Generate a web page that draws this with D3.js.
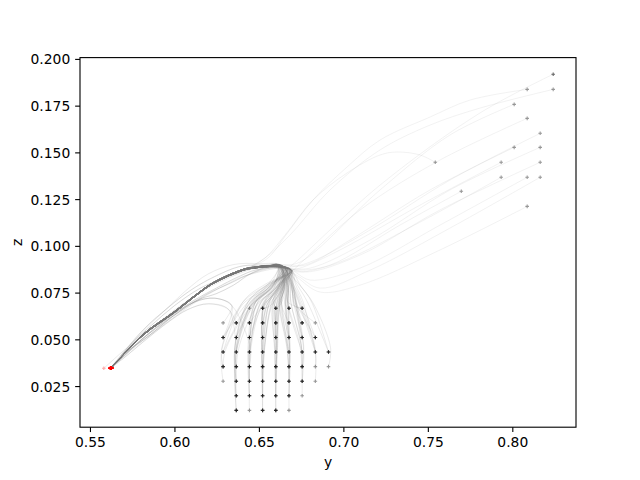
<!DOCTYPE html>
<html><head><meta charset="utf-8">
<script src="https://cdn.jsdelivr.net/npm/d3@7"></script>
<style>body{margin:0;background:#fff} text{font-family:"DejaVu Sans",sans-serif;}</style>
</head><body><svg id="c" width="640" height="480"></svg>
<script>
// ---- data ----
const xTicks = [0.55, 0.60, 0.65, 0.70, 0.75, 0.80];
const zTicks = [0.025, 0.050, 0.075, 0.100, 0.125, 0.150, 0.175, 0.200];
const xDomain = [0.5441, 0.8377];
const zDomain = [0.0030, 0.2007];

const gridX = [0.6288, 0.6366, 0.6444, 0.6522, 0.6600, 0.6678, 0.6756, 0.6834, 0.6912];
const gridZ = [0.0666, 0.0588, 0.0510, 0.0432, 0.0354, 0.0276, 0.0198, 0.0120];
// [row, col, shade(1 dark / 0 light), route of 1st run, route of 2nd run]
const gridStarts = [
  [0,2,0,0,0],[0,3,1,0,3],[0,4,1,0,1],[0,5,1,0,0],[0,6,1,0,0],
  [1,0,0,9,0],[1,1,1,10,0],[1,2,1,2,0],[1,3,1,0,0],[1,4,1,0,0],[1,5,1,4,0],[1,6,1,0,0],[1,7,0,0,0],
  [2,0,1,0,9],[2,1,1,0,0],[2,2,1,0,0],[2,3,1,5,0],[2,4,1,0,0],[2,5,1,0,0],[2,6,1,6,0],[2,7,1,0,0],
  [3,0,1,0,0],[3,1,1,0,10],[3,2,1,0,0],[3,3,1,0,7],[3,4,1,0,0],[3,5,1,0,0],[3,6,1,8,0],[3,7,1,0,0],[3,8,1,0,0],
  [4,0,1,0,0],[4,1,1,0,0],[4,2,1,9,0],[4,3,1,0,0],[4,4,1,0,2],[4,5,1,0,0],[4,6,1,0,0],[4,7,0,0,0],[4,8,0,0,0],
  [5,0,0,0,0],[5,1,1,3,0],[5,2,1,0,0],[5,3,1,0,0],[5,4,1,0,0],[5,5,1,0,6],[5,6,1,0,0],[5,7,0,0,0],
  [6,1,1,0,0],[6,2,1,1,0],[6,3,1,0,0],[6,4,1,0,0],[6,5,1,0,0],[6,6,0,0,0],
  [7,1,1,0,0],[7,2,0,0,0],[7,3,1,7,0],[7,4,1,0,0],[7,5,0,0,0]
];
const riseZ = 0.045;
const fanMidZ = 0.069;
const fanMidX = [0.642, 0.646, 0.650, 0.655, 0.660, 0.665, 0.670, 0.675, 0.679];
const fanTopZ = 0.078;
const fanTopX = [0.6545, 0.657, 0.660, 0.662, 0.664, 0.666, 0.669, 0.671, 0.673];
const jitX = [-0.0022, 0.0014, -0.0007, 0.0026, -0.0016, 0.0005, 0.0019, -0.0029, 0.0010, -0.0011, 0.0023, -0.0003, 0.0031, -0.0019, 0.0007];
const jitZ = [0.0010, -0.0012, 0.0004, -0.0006, 0.0015, -0.0002, 0.0008];
const joins = [[0.6668,0.0880],[0.6640,0.0892],[0.6685,0.0874],[0.6625,0.0897],[0.6695,0.0868],[0.6655,0.0884],[0.6612,0.0899]];

const mainPath  = [[0.6560,0.0889],[0.6487,0.0883],[0.6408,0.0870],[0.6230,0.0799],[0.6132,0.0737],[0.5993,0.0639],[0.5816,0.0523],[0.5622,0.0345]];
const mainPathB = [[0.6560,0.0894],[0.6487,0.0888],[0.6408,0.0875],[0.6230,0.0804],[0.6132,0.0742],[0.5993,0.0644],[0.5816,0.0528],[0.5627,0.0347]];
// faint side routes, each used by one or two runs
const halo = [
  [[0.6487,0.0872],[0.6380,0.0835],[0.6250,0.0775],[0.6100,0.0700],[0.5960,0.0610],[0.5816,0.0505],[0.5626,0.0345]],
  [[0.6450,0.0850],[0.6330,0.0800],[0.6200,0.0745],[0.6050,0.0660],[0.5900,0.0565],[0.5760,0.0465],[0.5618,0.0345]],
  [[0.6487,0.0897],[0.6380,0.0888],[0.6230,0.0832],[0.6100,0.0765],[0.5960,0.0668],[0.5816,0.0552],[0.5622,0.0347]],
  [[0.6487,0.0880],[0.6408,0.0860],[0.6230,0.0790],[0.6050,0.0690],[0.5850,0.0550],[0.5700,0.0440],[0.5582,0.0345]],
  [[0.6500,0.0905],[0.6350,0.0900],[0.6200,0.0850],[0.6080,0.0770],[0.5950,0.0660],[0.5800,0.0530],[0.5628,0.0346]],
  [[0.6470,0.0860],[0.6350,0.0790],[0.6250,0.0745],[0.6150,0.0715],[0.6000,0.0640],[0.5850,0.0535],[0.5622,0.0345]],
  [[0.6487,0.0886],[0.6300,0.0830],[0.6150,0.0772],[0.6000,0.0680],[0.5870,0.0580],[0.5750,0.0480],[0.5624,0.0346]],
  [[0.6420,0.0840],[0.6300,0.0790],[0.6180,0.0730],[0.6030,0.0640],[0.5880,0.0540],[0.5740,0.0440],[0.5620,0.0345]]
];
const direct = [
  [[0.634,0.068],[0.624,0.072],[0.612,0.070],[0.600,0.063],[0.585,0.052],[0.570,0.042],[0.5624,0.0346]],
  [[0.632,0.066],[0.620,0.069],[0.608,0.066],[0.596,0.059],[0.582,0.049],[0.570,0.040],[0.5621,0.0345]]
];

// upper-right starts: start, shade, via points, join mode ('c' via convergence, 'p' straight onto path)
const urStarts = [
  {s:[0.8242,0.1918], d:1, v:[[0.7809,0.1711],[0.7217,0.1325],[0.6696,0.0897]], m:'c'},
  {s:[0.8088,0.1837], d:0, v:[[0.7750,0.1780],[0.7513,0.1689],[0.7217,0.1566],[0.7022,0.1422],[0.6820,0.1245],[0.6655,0.1052],[0.6554,0.0935]], m:'p'},
  {s:[0.8242,0.1837], d:0, v:[[0.7809,0.1737],[0.7513,0.1646],[0.7217,0.1513],[0.6921,0.1299],[0.6684,0.1058],[0.6536,0.0935]], m:'p'},
  {s:[0.8011,0.1757], d:0, v:[[0.7631,0.1593],[0.7217,0.1299],[0.6743,0.0913]], m:'c'},
  {s:[0.8088,0.1682], d:0, v:[[0.7572,0.1459],[0.7099,0.1192],[0.6743,0.0905]], m:'c'},
  {s:[0.8165,0.1602], d:0, v:[[0.7631,0.1352],[0.7158,0.1085],[0.6803,0.0913]], m:'c'},
  {s:[0.8011,0.1527], d:0, v:[[0.7513,0.1299],[0.7039,0.1031],[0.6773,0.0897]], m:'c'},
  {s:[0.8165,0.1527], d:0, v:[[0.7631,0.1299],[0.7158,0.1031],[0.6803,0.0881]], m:'c'},
  {s:[0.7544,0.1447], d:0, v:[[0.7454,0.1486],[0.7318,0.1502],[0.7217,0.1486],[0.7022,0.1390],[0.6820,0.1245],[0.6655,0.1058],[0.6536,0.0935]], m:'p'},
  {s:[0.7934,0.1447], d:0, v:[[0.7454,0.1218],[0.6980,0.0978],[0.6743,0.0881]], m:'c'},
  {s:[0.8165,0.1447], d:0, v:[[0.7572,0.1192],[0.7099,0.0951],[0.6773,0.0860]], m:'c'},
  {s:[0.7934,0.1367], d:0, v:[[0.7454,0.1127],[0.6980,0.0913],[0.6743,0.0860]], m:'c'},
  {s:[0.8088,0.1367], d:0, v:[[0.7572,0.1111],[0.7099,0.0881],[0.6803,0.0817],[0.6714,0.0860]], m:'c'},
  {s:[0.8165,0.1367], d:0, v:[[0.7631,0.1095],[0.7158,0.0870],[0.6862,0.0774],[0.6732,0.0838]], m:'c'},
  {s:[0.7698,0.1292], d:0, v:[[0.7335,0.1111],[0.6921,0.0897],[0.6732,0.0870]], m:'c'},
  {s:[0.8088,0.1211], d:0, v:[[0.7572,0.0978],[0.7099,0.0790],[0.6862,0.0753],[0.6732,0.0828]], m:'c'}
];

// ---- layout ----
const W = 640, H = 480;
const m = {l: 80, r: 64, t: 57.6, b: 52.8};
const FS = 13.89;
const svg = d3.select("#c");
const x = d3.scaleLinear().domain(xDomain).range([m.l, W - m.r]);
const y = d3.scaleLinear().domain(zDomain).range([H - m.b, m.t]);
const line = d3.line().x(d => x(d[0])).y(d => y(d[1])).curve(d3.curveCatmullRom.alpha(0.5));

const trajs = [];
let n = 0;
gridStarts.forEach((g) => {
  const [r, c, shade, rA, rB] = g;
  const runs = shade ? [rA, rB] : [rA];
  runs.forEach((route, k) => {
    const j = jitX[n % jitX.length], jz = jitZ[n % jitZ.length];
    const s = [gridX[c], gridZ[r]];
    const pts = [s];
    if (s[1] < 0.040) pts.push([gridX[c] + j * 0.4, riseZ + jz]);
    if (route >= 9) {
      pts.push(...direct[route - 9]);
    } else {
      pts.push([fanMidX[c] + j, fanMidZ + jz], [fanTopX[c] + j * 0.6, fanTopZ + jz], joins[n % joins.length]);
      if (route === 0) pts.push(...(k ? mainPathB : mainPath));
      else pts.push(...halo[route - 1]);
    }
    trajs.push({pts, start: s, shade, end: pts[pts.length - 1], grp: "grid"});
    n++;
  });
});
urStarts.forEach((u, i) => {
  const pts = [u.s, ...u.v];
  if (u.m === 'c') { pts.push(joins[i % joins.length]); pts.push(...(i % 2 ? mainPathB : mainPath)); }
  else pts.push(...mainPath.slice(2));
  trajs.push({pts, start: u.s, shade: u.d, end: pts[pts.length - 1], grp: "ur"});
});

const plot = svg.append("g");
plot.selectAll("path.traj").data(trajs).join("path")
  .attr("class", "traj")
  .attr("d", d => line(d.pts))
  .attr("fill", "none")
  .attr("stroke", "#777")
  .attr("stroke-opacity", d => d.grp === "grid" ? 0.2 : 0.13)
  .attr("stroke-width", 0.75);

const plus = "M-1.8,0H1.8M0,-1.8V1.8";
plot.selectAll("path.start").data(trajs).join("path")
  .attr("class", "start")
  .attr("d", plus)
  .attr("transform", d => `translate(${x(d.start[0])},${y(d.start[1])})`)
  .attr("stroke", "#000")
  .attr("stroke-opacity", d => d.shade ? 0.6 : 0.4)
  .attr("stroke-width", 1.1);

plot.selectAll("path.end").data(trajs).join("path")
  .attr("class", "end")
  .attr("d", plus)
  .attr("transform", d => `translate(${x(d.end[0])},${y(d.end[1])})`)
  .attr("stroke", "#ff0000")
  .attr("stroke-opacity", 0.35)
  .attr("stroke-width", 1.1);

// ---- axes ----
const xa = svg.append("g").attr("transform", `translate(0,${H - m.b})`)
  .call(d3.axisBottom(x).tickValues(xTicks).tickFormat(d3.format(".2f")).tickSize(4.86).tickPadding(4.86));
const ya = svg.append("g").attr("transform", `translate(${m.l},0)`)
  .call(d3.axisLeft(y).tickValues(zTicks).tickFormat(d3.format(".3f")).tickSize(4.86).tickPadding(4.86));
[xa, ya].forEach(a => {
  a.select(".domain").remove();
  a.selectAll("line").attr("stroke", "#000").attr("stroke-width", 1.11);
  a.selectAll("text").attr("font-family", "DejaVu Sans").attr("font-size", FS).attr("fill", "#000");
});
ya.selectAll("text").attr("dy", "0.36em");
svg.append("rect").attr("x", m.l).attr("y", m.t).attr("width", W - m.l - m.r).attr("height", H - m.t - m.b)
  .attr("fill", "none").attr("stroke", "#000").attr("stroke-width", 1.11);

svg.append("text").attr("x", (m.l + W - m.r) / 2).attr("y", 466.8).attr("text-anchor", "middle")
  .attr("font-size", FS).text("y");
svg.append("text").attr("transform", `translate(21.7,${(m.t + H - m.b) / 2}) rotate(-90)`)
  .attr("text-anchor", "middle").attr("font-size", FS).text("z");
</script></body></html>
